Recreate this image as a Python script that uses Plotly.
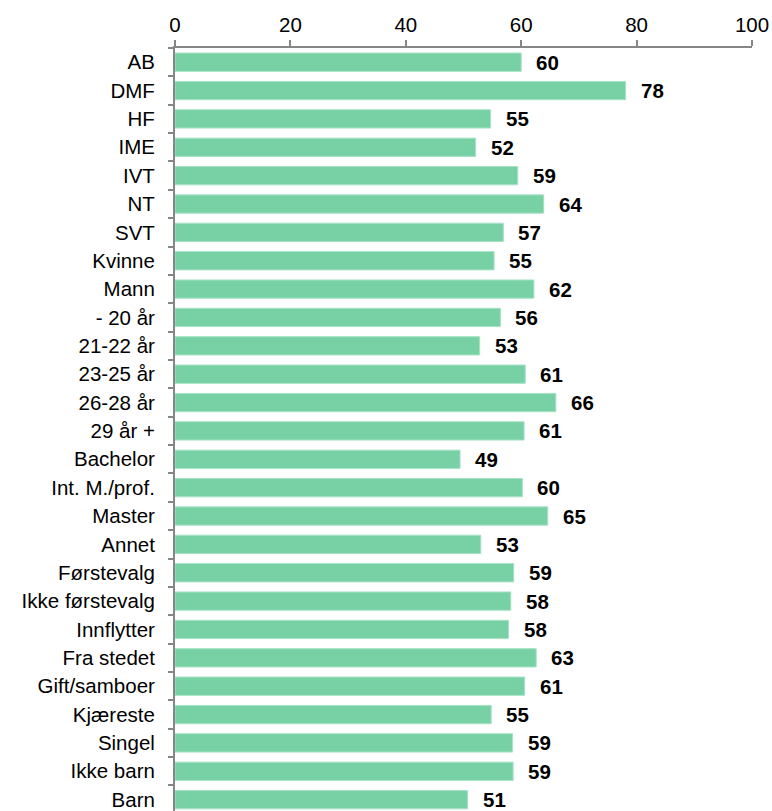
import plotly.graph_objects as go

categories = ["AB", "DMF", "HF", "IME", "IVT", "NT", "SVT", "Kvinne", "Mann",
              "- 20 år", "21-22 år", "23-25 år", "26-28 år", "29 år +",
              "Bachelor", "Int. M./prof.", "Master", "Annet",
              "Førstevalg", "Ikke førstevalg", "Innflytter", "Fra stedet",
              "Gift/samboer", "Kjæreste", "Singel", "Ikke barn", "Barn"]
values = [60.0, 78.1, 54.7, 52.1, 59.4, 63.9, 56.9, 55.3, 62.2,
          56.4, 52.8, 60.7, 66.0, 60.5,
          49.4, 60.2, 64.6, 53.0,
          58.7, 58.2, 57.8, 62.6,
          60.6, 54.8, 58.5, 58.6, 50.7]
labels = [60, 78, 55, 52, 59, 64, 57, 55, 62,
          56, 53, 61, 66, 61,
          49, 60, 65, 53,
          59, 58, 58, 63,
          61, 55, 59, 59, 51]
x_ticks = [0, 20, 40, 60, 80, 100]

FONT = "Liberation Sans, Arial, sans-serif"
FSIZE = 20.5
AXIS_GREY = "#868686"

fig = go.Figure()
fig.add_trace(go.Bar(
    x=values, y=categories, orientation="h",
    marker=dict(color="#77D1A5", line=dict(color="#A6E2C4", width=1)),
    width=0.645, hoverinfo="x+y",
))

for c, v, lab in zip(categories, values, labels):
    fig.add_annotation(x=v, y=c, text=f"<b>{lab}</b>", showarrow=False,
                       xanchor="left", yanchor="middle", xshift=13,
                       font=dict(family=FONT, size=FSIZE, color="#000000"))

fig.update_layout(
    width=772, height=811,
    margin=dict(l=175, r=20, t=48, b=0, autoexpand=False),
    plot_bgcolor="white", paper_bgcolor="white",
    showlegend=False,
    font=dict(family=FONT, size=FSIZE, color="#000000"),
)
fig.update_xaxes(
    side="top", range=[0, 100], tickvals=x_ticks, automargin=False,
    showgrid=False, zeroline=False,
    showline=True, linecolor=AXIS_GREY, linewidth=2,
    ticks="outside", ticklen=6, tickcolor=AXIS_GREY, tickwidth=1.5,
    tickfont=dict(family=FONT, size=FSIZE, color="#000000"),
)
fig.update_yaxes(
    type="category", categoryorder="array", categoryarray=categories,
    range=[26.4, -0.5], automargin=False,
    showgrid=False, zeroline=False,
    showline=True, linecolor=AXIS_GREY, linewidth=2,
    ticks="outside", ticklen=5, tickcolor=AXIS_GREY, tickwidth=1.5,
    tickson="boundaries", ticklabelstandoff=14,
    tickfont=dict(family=FONT, size=FSIZE, color="#000000"),
)

# remove the default page margin so the figure fills the window exactly
fig.write_html("out.html",
               config={"displayModeBar": False},
               post_script="document.body.style.margin='0';document.body.style.overflow='hidden';")
